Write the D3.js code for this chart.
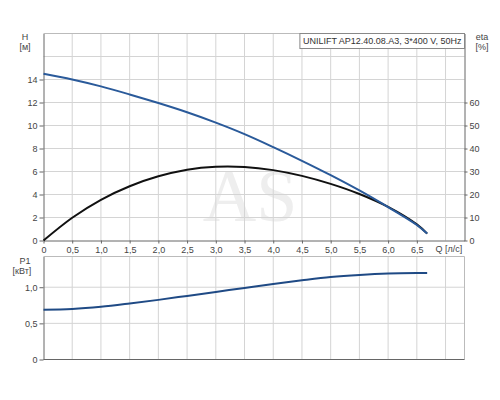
<!DOCTYPE html>
<html>
<head>
<meta charset="utf-8">
<script src="https://d3js.org/d3.v7.min.js"></script>
<style>
  body { margin: 0; background: #fff; }
  svg text { font-family: "Liberation Sans", Arial, sans-serif; fill: #444; }
</style>
</head>
<body>
<div id="chart"></div>
<script>
// flow rate points, l/s
var flow = [0, 0.5, 1.0, 1.5, 2.0, 2.5, 3.0, 3.5, 4.0, 4.5, 5.0, 5.5, 6.0, 6.5, 6.68];
// head H, m
var head = [14.5, 14.0, 13.4, 12.7, 11.95, 11.15, 10.25, 9.25, 8.12, 6.93, 5.68, 4.35, 2.9, 1.35, 0.6];
// efficiency eta, %
var eta = [0, 9.9, 17.7, 23.6, 27.9, 30.8, 32.1, 32.0, 30.6, 28.1, 24.6, 20.2, 14.6, 7.0, 3.0];
// power P1, kW
var power = [0.69, 0.70, 0.73, 0.775, 0.825, 0.88, 0.935, 0.99, 1.045, 1.095, 1.14, 1.17, 1.19, 1.197, 1.197];

var qTicks = [0, 0.5, 1, 1.5, 2, 2.5, 3, 3.5, 4, 4.5, 5, 5.5, 6, 6.5];
var qGrid = [0.5, 1, 1.5, 2, 2.5, 3, 3.5, 4, 4.5, 5, 5.5, 6, 6.5, 7];
var hTicks = [0, 2, 4, 6, 8, 10, 12, 14];
var hGrid = [2, 4, 6, 8, 10, 12, 14, 16];
var etaTicks = [0, 10, 20, 30, 40, 50, 60];
var pTicks = [0, 0.5, 1.0];
var title = "UNILIFT AP12.40.08.A3, 3*400 V, 50Hz";

var svg = d3.select("#chart").append("svg")
    .attr("width", 500)
    .attr("height", 400);

var left = 43.5, right = 464.5;
var x = d3.scaleLinear().domain([0, 7.33]).range([left, right]);
var yH = d3.scaleLinear().domain([0, 18]).range([240.5, 33.5]);
var yEta = d3.scaleLinear().domain([0, 90]).range([240.5, 33.5]);
var yP = d3.scaleLinear().domain([0, 1.425]).range([359.5, 256.5]);

var comma = function(d) { return d === 0 ? "0" : d3.format(".1f")(d).replace(".", ","); };

// watermark
svg.append("text")
    .attr("x", 250)
    .attr("y", 221)
    .attr("text-anchor", "middle")
    .style("font-family", "'Liberation Serif', 'DejaVu Serif', serif")
    .style("font-size", "74px")
    .style("fill", "#eeeeee")
    .text("AS");

function panel(y, gridY) {
    var g = svg.append("g");
    g.selectAll(".vg").data(qGrid).enter().append("line")
        .attr("x1", function(d) { return x(d); })
        .attr("x2", function(d) { return x(d); })
        .attr("y1", y.range()[0])
        .attr("y2", y.range()[1])
        .style("stroke", "#d4d4d4");
    g.selectAll(".hg").data(gridY).enter().append("line")
        .attr("x1", left)
        .attr("x2", right)
        .attr("y1", function(d) { return y(d); })
        .attr("y2", function(d) { return y(d); })
        .style("stroke", "#d4d4d4");
    // frame top
    g.append("line").attr("x1", left).attr("x2", right)
        .attr("y1", y.range()[1]).attr("y2", y.range()[1]).style("stroke", "#bbb");
    return g;
}

panel(yH, hGrid);
panel(yP, [0.5, 1.0]);
svg.append("line").attr("x1", right).attr("x2", right)
    .attr("y1", yP.range()[0]).attr("y2", yP.range()[1]).style("stroke", "#bbb");

function styleAxis(g) {
    g.select(".domain").style("stroke", "#666");
    g.selectAll(".tick line").style("stroke", "#666");
    g.selectAll("text").style("font-size", "9px").style("fill", "#444")
        .style("font-family", "'Liberation Sans', Arial, sans-serif");
}

// upper panel axes
svg.append("g")
    .attr("transform", "translate(" + left + ",0)")
    .call(d3.axisLeft(yH).tickValues(hTicks).tickSize(4).tickSizeOuter(0).tickPadding(2))
    .call(styleAxis);
svg.append("g")
    .attr("transform", "translate(" + right + ",0)")
    .call(d3.axisRight(yEta).tickValues(etaTicks).tickSize(3).tickSizeOuter(0).tickPadding(2))
    .call(styleAxis);
svg.append("g")
    .attr("transform", "translate(0," + yH(0) + ")")
    .call(d3.axisBottom(x).tickValues(qTicks).tickFormat(comma).tickSize(3).tickSizeOuter(0).tickPadding(3))
    .call(styleAxis);

// lower panel axes
svg.append("g")
    .attr("transform", "translate(" + left + ",0)")
    .call(d3.axisLeft(yP).tickValues(pTicks).tickFormat(comma).tickSize(4).tickSizeOuter(0).tickPadding(2))
    .call(styleAxis);
svg.append("line").attr("x1", left).attr("x2", right)
    .attr("y1", yP(0)).attr("y2", yP(0)).style("stroke", "#666");

// curves
var pts = function(vals) { return flow.map(function(q, i) { return [q, vals[i]]; }); };
var smooth = d3.curveCatmullRom.alpha(0.5);

svg.append("path")
    .datum(pts(eta))
    .attr("d", d3.line().x(function(d) { return x(d[0]); }).y(function(d) { return yEta(d[1]); }).curve(smooth))
    .style("fill", "none").style("stroke", "#111").style("stroke-width", 2);

svg.append("path")
    .datum(pts(head))
    .attr("d", d3.line().x(function(d) { return x(d[0]); }).y(function(d) { return yH(d[1]); }).curve(smooth))
    .style("fill", "none").style("stroke", "#2a5a9a").style("stroke-width", 2);

svg.append("path")
    .datum(pts(power))
    .attr("d", d3.line().x(function(d) { return x(d[0]); }).y(function(d) { return yP(d[1]); }).curve(smooth))
    .style("fill", "none").style("stroke", "#1f4a85").style("stroke-width", 2);

// title box
var tb = svg.append("g");
var tt = tb.append("text")
    .attr("x", right - 3)
    .attr("y", 44)
    .attr("text-anchor", "end")
    .style("font-size", "9px")
    .style("fill", "#333")
    .text(title);
var bb = tt.node().getBBox();
tb.insert("rect", "text")
    .attr("x", bb.x - 3)
    .attr("y", 33.5)
    .attr("width", right - bb.x + 3)
    .attr("height", 15)
    .style("fill", "#fff")
    .style("stroke", "#888");

// axis captions
function label(txt, cx, cy) {
    svg.append("text").attr("x", cx).attr("y", cy)
        .attr("text-anchor", "middle")
        .style("font-size", "9px")
        .text(txt);
}
label("H", 25, 40);
label("[м]", 25, 50);
label("eta", 482, 40);
label("[%]", 482, 50);
label("Q [л/с]", 449, 252);
label("P1", 25, 264);
label("[кВт]", 22, 274);
</script>
</body>
</html>
